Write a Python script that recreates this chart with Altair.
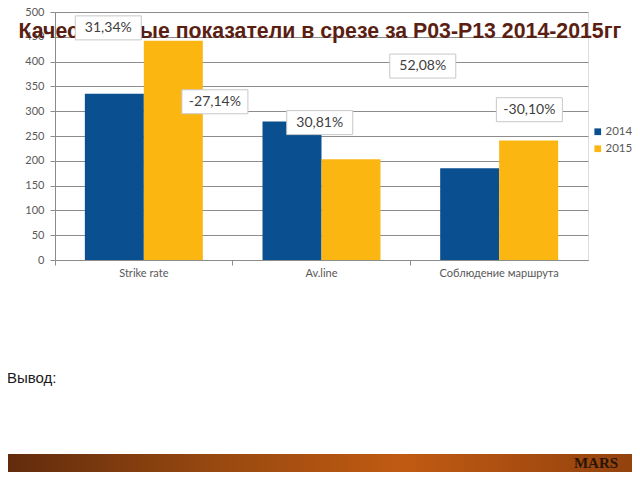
import altair as alt
import pandas as pd

categories = ["Strike rate", "Av.line", "Соблюдение маршрута"]
years = ["2014", "2015"]
values_2014 = [335, 279, 185]
values_2015 = [442, 203, 241]
y_ticks = [0, 50, 100, 150, 200, 250, 300, 350, 400, 450, 500]

# change annotations (text, anchor in category units, anchor in value units)
label_texts = ["31,34%", "-27,14%", "30,81%", "52,08%", "-30,10%"]
label_cat_pos = [0.30, 0.90, 1.49, 2.07, 2.67]
label_val_pos = [468, 319, 277, 391, 303]

title_text = "Качественные показатели в срезе за Р03-Р13 2014-2015гг"
footer_text = "Вывод:"

rows = []
for c, v1, v2 in zip(categories, values_2014, values_2015):
    rows.append({"category": c, "year": years[0], "value": v1})
    rows.append({"category": c, "year": years[1], "value": v2})
df = pd.DataFrame(rows)

lab = pd.DataFrame({"t": label_texts, "lx": label_cat_pos, "ly": label_val_pos})

GRID = "#8c8c8c"
LBL = "#595959"

y_axis = alt.Axis(title=None, values=y_ticks, grid=True, gridColor=GRID,
                  domainColor=GRID, tickColor=GRID, tickSize=5,
                  labelFont="Lato", labelFontSize=11, labelColor=LBL,
                  labelPadding=6)
y_scale = alt.Scale(domain=[0, 500], nice=False)

bars = alt.Chart(df).mark_bar().encode(
    x=alt.X("category:N", sort=categories,
            scale=alt.Scale(paddingInner=0.336, paddingOuter=0.168),
            axis=alt.Axis(title=None, labelAngle=0, ticks=False, domainColor=GRID,
                          labelFont="Lato", labelFontSize=11, labelColor=LBL,
                          labelPadding=7, grid=False)),
    xOffset=alt.XOffset("year:N", sort=years, scale=alt.Scale(paddingInner=0, paddingOuter=0)),
    y=alt.Y("value:Q", scale=y_scale, axis=y_axis),
    color=alt.Color("year:N", sort=years,
                    scale=alt.Scale(domain=years, range=["#0A4F8F", "#FBB612"]),
                    legend=alt.Legend(title=None, orient="none", legendX=537, legendY=114,
                                      symbolType="square", symbolSize=45,
                                      symbolStrokeWidth=0, labelFont="Lato",
                                      labelFontSize=11.5, labelColor=LBL, rowPadding=4,
                                      labelOffset=2)),
)

ticks_layer = alt.Chart(df).mark_bar(opacity=0).encode(
    x=alt.X("category:N", sort=categories,
            scale=alt.Scale(paddingInner=0, paddingOuter=0),
            axis=alt.Axis(orient="bottom", title=None, labels=False, domain=False,
                          ticks=True, tickColor=GRID, tickSize=5, bandPosition=0,
                          grid=False)),
    y=alt.Y("value:Q", scale=y_scale, axis=y_axis),
)

title_layer = alt.Chart(pd.DataFrame({"t": [title_text]})).mark_text(
    font="Liberation Sans", fontWeight="bold", fontSize=21.3, color="#5A1E12",
    align="center", baseline="alphabetic"
).encode(x=alt.value(265), y=alt.value(26), text="t:N")

boxes = alt.Chart(lab).mark_rect(width=66, height=24, fill="white",
                                 stroke="#c8c8c8", strokeWidth=1).encode(
    x=alt.X("lx:Q", scale=alt.Scale(domain=[0, 3], nice=False, zero=False), axis=None),
    y=alt.Y("ly:Q", scale=y_scale, axis=y_axis),
)
texts = alt.Chart(lab).mark_text(font="Lato", fontSize=14, color="#404040",
                                 align="center", baseline="middle").encode(
    x=alt.X("lx:Q", scale=alt.Scale(domain=[0, 3], nice=False, zero=False), axis=None),
    y=alt.Y("ly:Q", scale=y_scale, axis=y_axis),
    text="t:N",
)

footer = alt.Chart(pd.DataFrame({"t": [footer_text]})).mark_text(
    font="Liberation Sans", fontSize=15, color="#1a1a1a", align="left",
    baseline="alphabetic"
).encode(x=alt.value(-48), y=alt.value(371), text="t:N")

band = alt.Chart(pd.DataFrame({"a": [1]})).mark_rect(
    color=alt.Gradient(gradient="linear", x1=0, x2=1, y1=0, y2=0,
                       stops=[alt.GradientStop(color="#5E2A0C", offset=0),
                              alt.GradientStop(color="#9A4A10", offset=0.35),
                              alt.GradientStop(color="#C05A12", offset=0.62),
                              alt.GradientStop(color="#8E400E", offset=1)])
).encode(x=alt.value(-60), x2=alt.value(600), y=alt.value(442), y2=alt.value(475))

mars = alt.Chart(pd.DataFrame({"t": ["MARS"]})).mark_text(
    font="Liberation Serif", fontWeight="bold", fontSize=15, color="#2A1406",
    align="center", baseline="alphabetic"
).encode(x=alt.value(541), y=alt.value(456), text="t:N")

chart = alt.layer(bars, ticks_layer, title_layer, boxes, texts, footer, band, mars).resolve_scale(
    x="independent"
).properties(
    width=533, height=248, autosize="none",
    padding={"left": 47, "top": 4, "right": 44, "bottom": 212},
).configure_view(stroke=None).configure(background="white")

chart.save("out.html", embed_options={"renderer": "svg", "actions": False})
